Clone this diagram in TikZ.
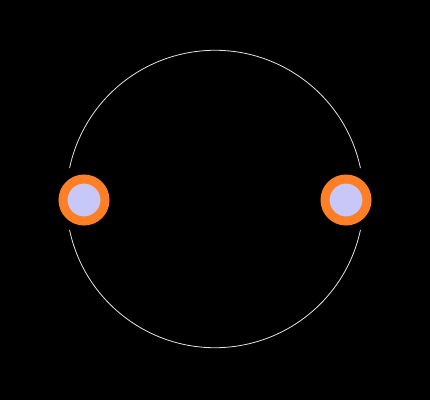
\documentclass[tikz,border=0pt]{standalone}
\definecolor{ringorange}{RGB}{255,127,39}
\definecolor{lav}{RGB}{200,200,248}
\begin{document}
\begin{tikzpicture}[x=1pt,y=1pt,
  pad/.style={circle,draw=ringorange,fill=lav,line width=9pt,minimum size=42pt,inner sep=0pt},
  outline/.style={draw=white!90!black,line width=0.8pt}]
\fill[black] (0,0) rectangle (430,400);
\useasboundingbox (0,0) rectangle (430,400);
\coordinate (c) at (215,201);
\draw[outline] ([shift={(12:148.7)}]c) arc[start angle=12,end angle=168,radius=148.7];
\draw[outline] ([shift={(192:148.7)}]c) arc[start angle=192,end angle=348,radius=148.7];
\node[pad] (p1) at (84,200) {};
\node[pad] (p2) at (346,200) {};
\end{tikzpicture}
\end{document}
